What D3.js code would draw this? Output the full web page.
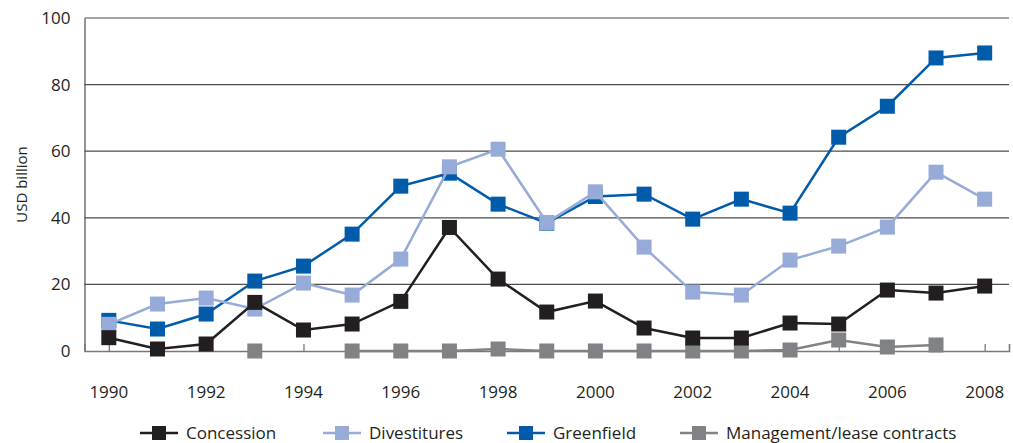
<!DOCTYPE html>
<html>
<head>
<meta charset="utf-8">
<script src="https://cdn.jsdelivr.net/npm/d3@7"></script>
<style>
  body { margin: 0; background: #fff; }
  text { font-family: "Open Sans", sans-serif; fill: #231f20; }
</style>
</head>
<body>
<div id="chart"></div>
<script>
// chart data
const years = d3.range(1990, 2009);
const concession = [4, 0.6, 2.1, 14.6, 6.3, 8.1, 14.9, 37.1, 21.6, 11.7, 15, 6.9, 3.9, 3.9, 8.4, 8.1, 18.3, 17.4, 19.5];
const divestitures = [8, 14.1, 15.9, 12.6, 20.4, 16.8, 27.6, 55.3, 60.6, 38.6, 47.8, 31.2, 17.7, 16.8, 27.3, 31.5, 37.2, 53.7, 45.6];
const greenfield = [9.2, 6.6, 11.1, 21, 25.5, 35.1, 49.5, 53.4, 44.1, 38.4, 46.4, 47.1, 39.6, 45.6, 41.4, 64.2, 73.5, 88, 89.5];
const management = [null, null, null, 0, null, 0, 0, 0, 0.6, 0, 0, 0, 0, 0, 0.3, 3.3, 1.2, 1.8, null];
const yTicks = [0, 20, 40, 60, 80, 100];
const xLabelYears = [1990, 1992, 1994, 1996, 1998, 2000, 2002, 2004, 2006, 2008];

const series = [
  { name: "Management/lease contracts", values: management, color: "#808285" },
  { name: "Greenfield", values: greenfield, color: "#005bab" },
  { name: "Divestitures", values: divestitures, color: "#97abd8" },
  { name: "Concession", values: concession, color: "#231f20" }
];
const legendOrder = ["Concession", "Divestitures", "Greenfield", "Management/lease contracts"];

const width = 1013;
const height = 443;
const margin = { top: 18, right: 4, bottom: 92, left: 84.5 };

const svg = d3.select("#chart")
  .append("svg")
  .attr("width", width)
  .attr("height", height);

const x = d3.scaleLinear()
  .domain([1989.5, 2008.5])
  .range([margin.left, width - margin.right]);

const y = d3.scaleLinear()
  .domain([0, 100])
  .range([height - margin.bottom, margin.top]);

// gridlines
svg.append("g")
  .selectAll("line")
  .data(yTicks.filter(d => d > 0))
  .join("line")
  .attr("x1", margin.left)
  .attr("x2", width - margin.right)
  .attr("y1", d => y(d))
  .attr("y2", d => y(d))
  .attr("stroke", "#4d4d4f")
  .attr("stroke-width", 1.2);

// y axis
const yAxis = svg.append("g")
  .attr("transform", `translate(${margin.left},0)`)
  .call(d3.axisLeft(y).tickValues(yTicks).tickSize(0).tickPadding(14));
yAxis.select(".domain").attr("stroke", "#4d4d4f").attr("stroke-width", 1.2);
yAxis.selectAll("text")
  .style("font-family", "'Open Sans', sans-serif")
  .style("font-size", "17px")
  .attr("fill", "#231f20");

svg.append("text")
  .attr("transform", `translate(27,${y(50)}) rotate(-90)`)
  .attr("text-anchor", "middle")
  .style("font-size", "15px")
  .text("USD billion");

// x axis: small upward ticks each year
const xAxis = svg.append("g")
  .attr("transform", `translate(0,${y(0)})`)
  .call(d3.axisBottom(x).tickValues(years).tickSize(-7).tickFormat(""));
xAxis.select(".domain").attr("stroke", "#77787b").attr("stroke-width", 1.6);
xAxis.selectAll(".tick line").attr("stroke", "#6d6e71").attr("stroke-width", 1.2);

svg.append("g")
  .selectAll("text")
  .data(xLabelYears)
  .join("text")
  .attr("x", d => x(d))
  .attr("y", y(0) + 47)
  .attr("text-anchor", "middle")
  .style("font-size", "17px")
  .text(d => d);

// lines and markers
const line = d3.line()
  .defined(d => d.v !== null)
  .x(d => x(d.year))
  .y(d => y(d.v));

const markerSize = 15;

series.forEach(s => {
  const pts = years.map((yr, i) => ({ year: yr, v: s.values[i] }));
  const g = svg.append("g");
  g.append("path")
    .datum(pts)
    .attr("fill", "none")
    .attr("stroke", s.color)
    .attr("stroke-width", 2.5)
    .attr("d", line);
  g.selectAll("rect")
    .data(pts.filter(d => d.v !== null))
    .join("rect")
    .attr("x", d => x(d.year) - markerSize / 2)
    .attr("y", d => y(d.v) - markerSize / 2)
    .attr("width", markerSize)
    .attr("height", markerSize)
    .attr("fill", s.color);
});

// legend
const legendX = [140, 323, 507, 680];
const legend = svg.append("g").attr("transform", `translate(0,${height - 10})`);
legendOrder.forEach((name, i) => {
  const s = series.find(d => d.name === name);
  const g = legend.append("g").attr("transform", `translate(${legendX[i]},0)`);
  g.append("line")
    .attr("x1", 0).attr("x2", 38)
    .attr("y1", 0).attr("y2", 0)
    .attr("stroke", s.color)
    .attr("stroke-width", 2.5);
  g.append("rect")
    .attr("x", 19 - 7).attr("y", -7)
    .attr("width", 14).attr("height", 14)
    .attr("fill", s.color);
  g.append("text")
    .attr("x", 46)
    .attr("y", 0)
    .attr("dy", "0.35em")
    .style("font-size", "17px")
    .text(name);
});
</script>
</body>
</html>
